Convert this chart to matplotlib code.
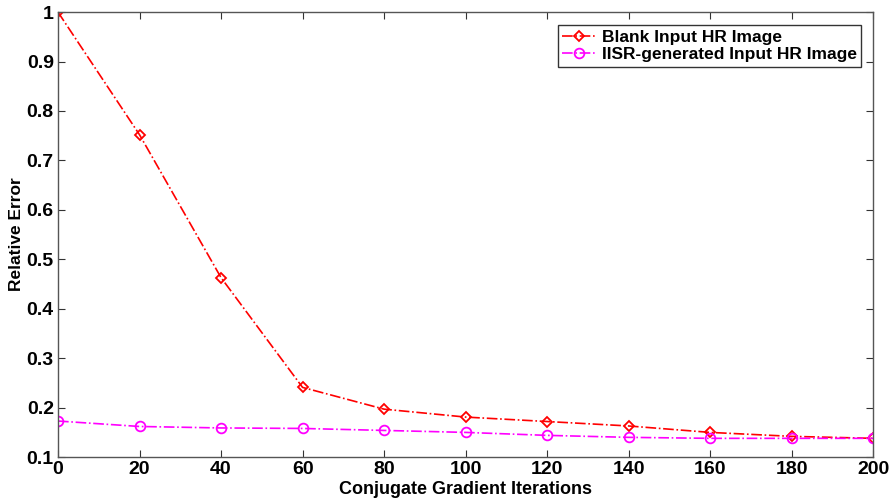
import matplotlib.pyplot as plt

plt.rcParams['font.family'] = ['Liberation Sans', 'DejaVu Sans']

# data
iterations = [0, 20, 40, 60, 80, 100, 120, 140, 160, 180, 200]
blank_err = [1.0, 0.752, 0.463, 0.241, 0.197, 0.181, 0.172, 0.163, 0.150, 0.142, 0.138]
iisr_err = [0.173, 0.162, 0.159, 0.158, 0.154, 0.150, 0.144, 0.140, 0.138, 0.138, 0.138]
labels = ['Blank Input HR Image', 'IISR-generated Input HR Image']

fig = plt.figure(figsize=(8.92, 5.04), dpi=100)
ax = fig.add_axes([0.065, 0.093, 0.914, 0.883])

ax.plot(iterations, blank_err, linestyle='-.', color='red', lw=1.2,
        marker='D', markersize=5.5, markerfacecolor='none', markeredgecolor='red',
        markeredgewidth=1.3, label=labels[0])
ax.plot(iterations, iisr_err, linestyle='-.', color='magenta', lw=1.2,
        marker='o', markersize=7, markerfacecolor='none', markeredgecolor='magenta',
        markeredgewidth=1.3, label=labels[1])

ax.set_xlim(0, 200)
ax.set_ylim(0.1, 1.0)
ax.set_xticks(range(0, 201, 20))
ax.set_yticks([0.1, 0.2, 0.3, 0.4, 0.5, 0.6, 0.7, 0.8, 0.9, 1.0])
ax.set_yticklabels(['0.1', '0.2', '0.3', '0.4', '0.5', '0.6', '0.7', '0.8', '0.9', '1'])

ax.tick_params(direction='in', top=True, right=True, length=5, width=0.8,
               labelsize=14, pad=3, colors='#333333', labelcolor='black')
for lab in ax.get_xticklabels() + ax.get_yticklabels():
    lab.set_fontweight('bold')
for sp in ax.spines.values():
    sp.set_color('#555555')
    sp.set_linewidth(1.0)

ax.set_xlabel('Conjugate Gradient Iterations', fontsize=13, fontweight='bold', labelpad=2)
ax.set_ylabel('Relative Error', fontsize=12.5, fontweight='bold', labelpad=2)

leg = ax.legend(loc='upper right', prop={'weight': 'bold', 'size': 12.5},
                frameon=True, fancybox=False, edgecolor='black', borderpad=0.25,
                handlelength=2.0, handletextpad=0.3, labelspacing=0.15,
                bbox_to_anchor=(0.996, 0.99))
leg.get_frame().set_linewidth(1.0)

plt.savefig('out.png', dpi=100, facecolor='white')
